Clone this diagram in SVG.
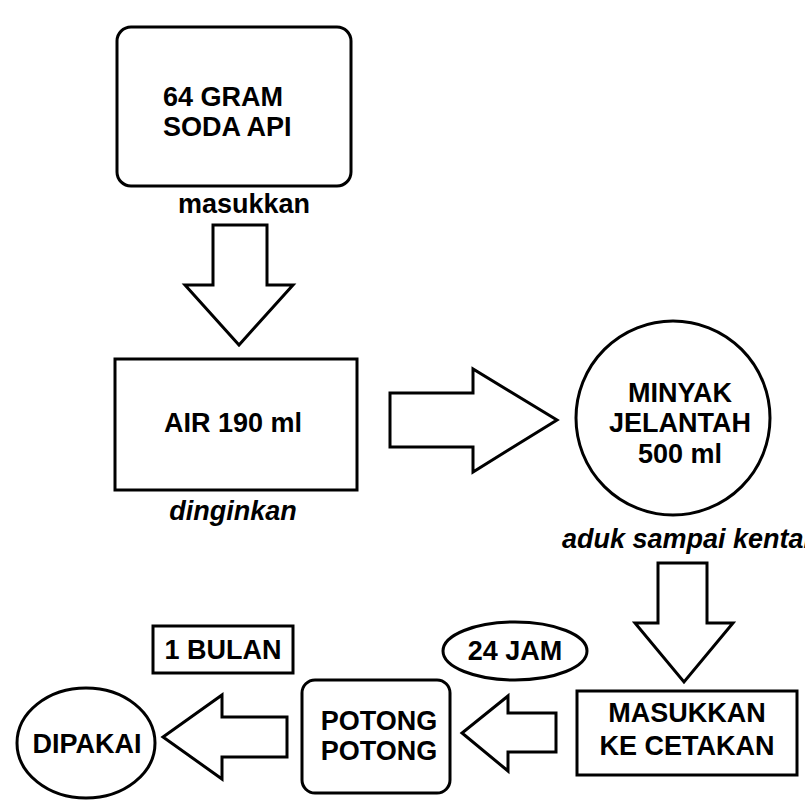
<svg xmlns="http://www.w3.org/2000/svg" width="805" height="811" viewBox="0 0 805 811">
<style>
.s{fill:#fff;stroke:#000;stroke-width:3;stroke-linejoin:miter}
.t{font-family:"Liberation Sans",Arial,sans-serif;font-weight:bold;font-size:27px;fill:#000;text-anchor:middle}
.i{font-style:italic}
.l{text-anchor:start}
</style>
<rect width="805" height="811" fill="#fff"/>
<g id="connectors">
<polygon class="s" points="213,225 267,225 267,285 293,285 239,345 185,285 213,285"/>
<polygon class="s" points="390,393 473,393 473,369 557,420 473,472 473,447 390,447"/>
<polygon class="s" points="658,563 707,563 707,623 733,623 684,682 635,623 658,623"/>
<polygon class="s" points="556,713 508,713 508,696 462,733 508,771 508,752 556,752"/>
<polygon class="s" points="287,717 222,717 222,695 163,737 222,779 222,757 287,757"/>
</g>
<g id="soda">
<rect class="s" x="117" y="27" width="234" height="159" rx="14"/>
<text class="t l" x="163" y="106">64 GRAM</text>
<text class="t l" x="163" y="136">SODA API</text>
</g>
<g id="label-masukkan"><text class="t" x="244" y="213">masukkan</text></g>
<g id="air">
<rect class="s" x="115" y="359" width="242" height="131"/>
<text class="t" x="233" y="432">AIR 190 ml</text>
</g>
<g id="label-dinginkan"><text class="t i" x="233" y="520">dinginkan</text></g>
<g id="minyak">
<circle class="s" cx="673" cy="418" r="97"/>
<text class="t" x="680" y="402">MINYAK</text>
<text class="t" x="680" y="432">JELANTAH</text>
<text class="t" x="680" y="463">500 ml</text>
</g>
<g id="label-aduk"><text class="t i l" x="562" y="548">aduk sampai kental</text></g>
<g id="cetakan">
<rect class="s" x="577" y="691" width="220" height="84"/>
<text class="t" x="687" y="722">MASUKKAN</text>
<text class="t" x="687" y="755">KE CETAKAN</text>
</g>
<g id="jam">
<ellipse class="s" cx="515" cy="651" rx="72" ry="29"/>
<text class="t" x="515" y="660">24 JAM</text>
</g>
<g id="potong">
<rect class="s" x="302" y="680" width="148" height="113" rx="13"/>
<text class="t" x="379" y="730">POTONG</text>
<text class="t" x="379" y="760">POTONG</text>
</g>
<g id="bulan">
<rect class="s" x="153" y="626" width="140" height="47"/>
<text class="t" x="223" y="659">1 BULAN</text>
</g>
<g id="dipakai">
<ellipse class="s" cx="86" cy="743" rx="69" ry="55"/>
<text class="t" x="87" y="753">DIPAKAI</text>
</g>
</svg>
